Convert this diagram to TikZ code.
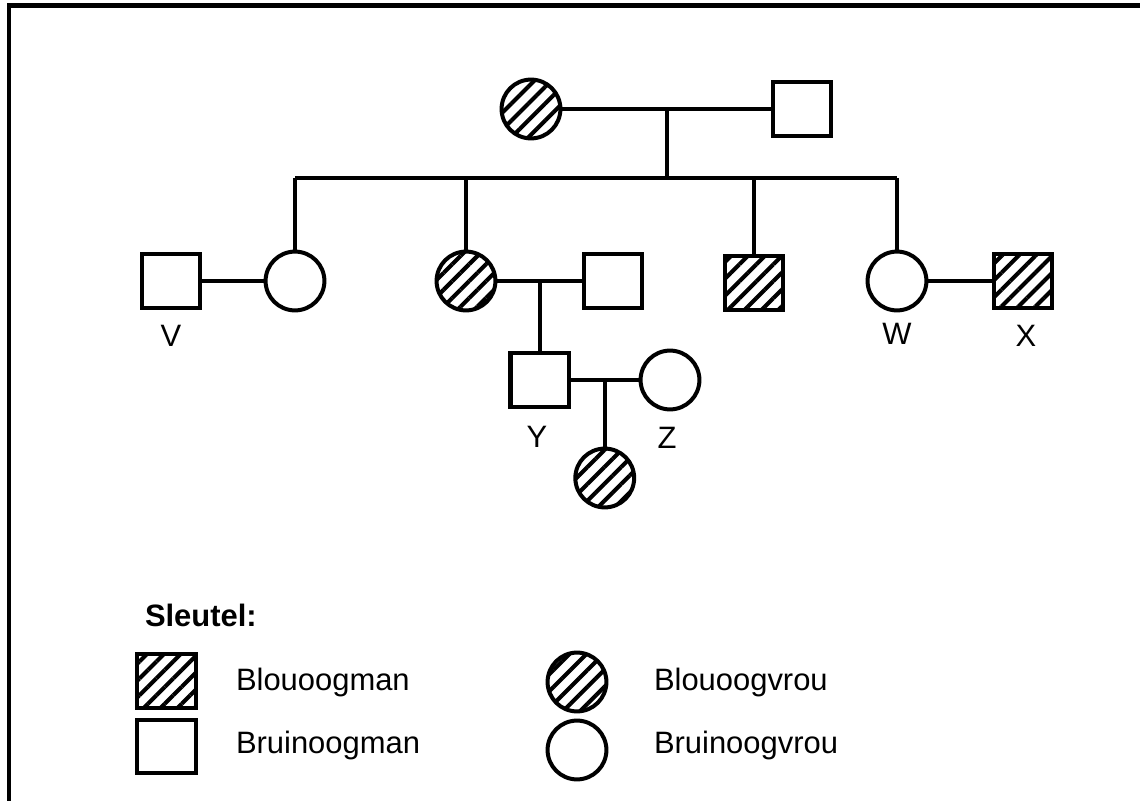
\documentclass[tikz,border=0pt]{standalone}
\usepackage{fontspec}
\setmainfont{Liberation Sans}
\usetikzlibrary{patterns.meta, calc}

\begin{document}
\begin{tikzpicture}[
    x=0.025cm, y=-0.025cm,
    line width=2.85pt,
    font=\fontsize{22}{26}\selectfont,
    man/.style={draw, rectangle, minimum width=1.45cm, minimum height=1.33cm, inner sep=0pt},
    vrou/.style={draw, circle, minimum size=1.47cm, inner sep=0pt},
    blou/.style={pattern={Lines[angle=45, distance=8.5pt, line width=2.9pt]}},
    naam/.style={anchor=base, inner sep=0pt},
    sleutel/.style={anchor=base west, inner sep=0pt}
]

% Page and frame
\useasboundingbox (0,0) rectangle (1140,801);
\fill[white] (0,0) rectangle (1140,801);
\draw (9,5.5) rectangle (1200,900);

% Grandparents
\node[vrou, blou] (ouma) at (531,109) {};
\node[man] (oupa) at (802,109) {};
\draw (ouma) -- (oupa);
\coordinate (ouers) at ($(ouma)!0.5!(oupa)$);

% Children on one sibship line
\coordinate (lyn) at (0,178);
\node[vrou] (dogter1) at (295,281) {};
\node[vrou, blou] (dogter2) at (466,281) {};
\node[man, blou] (seun) at (754,283) {};
\node[vrou] (wvrou) at (897,281) {};

\draw (ouers) -- (ouers |- lyn);
\draw (dogter1 |- lyn) -- (wvrou |- lyn);
\foreach \k in {dogter1, dogter2, seun, wvrou} {
    \draw (\k) -- (\k |- lyn);
}

% Spouses
\node[man] (vman) at (171,281) {};
\draw (vman) -- (dogter1);
\node[man] (skoonseun) at (613,281) {};
\draw (dogter2) -- (skoonseun);
\coordinate (paar2) at ($(dogter2)!0.5!(skoonseun)$);
\node[man, blou] (xman) at (1023,281) {};
\draw (wvrou) -- (xman);

% Grandchildren
\node[man] (yman) at (539.5,380) {};
\draw (paar2) -- (yman);
\node[vrou] (zvrou) at (670,380) {};
\draw (yman) -- (zvrou);
\coordinate (paar3) at ($(yman)!0.5!(zvrou)$);
\node[vrou, blou] (kleinkind) at (604.75,478) {};
\draw (paar3) -- (kleinkind);

% Letters
\node[naam] (v) at (171,347) {V};
\node[naam] (w) at (897,344) {W};
\node[naam] (x) at (1026,347) {X};
\node[naam] (y) at (537,447) {Y};
\node[naam] (z) at (667,448) {Z};

% Key
\node[sleutel, font=\fontsize{22}{26}\selectfont\bfseries] (titel) at (143,626) {Sleutel:};
\node[man, blou] (kblouman) at (166.5,681) {};
\node[man] (kbruinman) at (166.5,746.5) {};
\node[vrou, blou] (kblouvrou) at (577,682) {};
\node[vrou] (kbruinvrou) at (577,750) {};
\node[sleutel] (tblouman) at (234,690) {Blouoogman};
\node[sleutel] (tbruinman) at (234,753) {Bruinoogman};
\node[sleutel] (tblouvrou) at (652,690) {Blouoogvrou};
\node[sleutel] (tbruinvrou) at (652,753) {Bruinoogvrou};

\end{tikzpicture}
\end{document}
